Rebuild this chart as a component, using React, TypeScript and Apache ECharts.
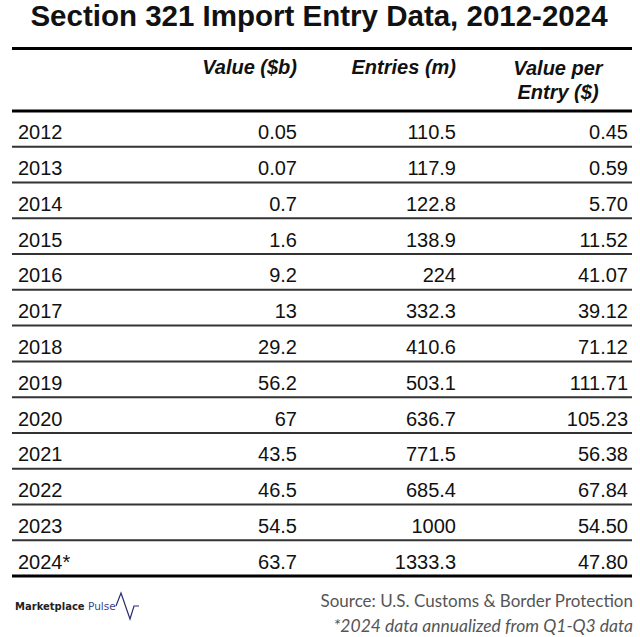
import React, { useEffect, useRef } from "react";
import * as echarts from "echarts";

const years = ["2012", "2013", "2014", "2015", "2016", "2017", "2018", "2019", "2020", "2021", "2022", "2023", "2024*"];
const valueB = ["0.05", "0.07", "0.7", "1.6", "9.2", "13", "29.2", "56.2", "67", "43.5", "46.5", "54.5", "63.7"];
const entriesM = ["110.5", "117.9", "122.8", "138.9", "224", "332.3", "410.6", "503.1", "636.7", "771.5", "685.4", "1000", "1333.3"];
const valuePerEntry = ["0.45", "0.59", "5.70", "11.52", "41.07", "39.12", "71.12", "111.71", "105.23", "56.38", "67.84", "54.50", "47.80"];
const headers = ["Value ($b)", "Entries (m)", "Value per\nEntry ($)"];

const FONT = "'Liberation Sans', Arial, sans-serif";

export default function App() {
  const ref = useRef<HTMLDivElement>(null);
  useEffect(() => {
    document.body.style.margin = "0";
    const chart = echarts.init(ref.current!, null, { renderer: "svg" });
    const colX = [18, 297, 456, 628];
    const rowFont = { fontFamily: FONT, fontSize: 20, fill: "#111" };
    const headFont = { fontFamily: FONT, fontSize: 20, fontWeight: "bold", fontStyle: "italic", fill: "#111" };
    chart.setOption({
      animation: false,
      backgroundColor: "#fff",
      grid: { left: 0, right: 0, top: 111, bottom: 61 },
      xAxis: { type: "value", min: 0, max: 640, show: false },
      yAxis: { type: "category", data: years, inverse: true, show: false },
      series: [
        {
          type: "custom",
          data: years.map((_, i) => [0, i]),
          encode: { x: 0, y: 1 },
          renderItem: (params: any, api: any) => {
            const i = api.value(1);
            const [, cy] = api.coord([0, i]);
            const band = api.size([0, 1])[1];
            const ty = cy + 3.5;
            const x0 = api.coord([colX[0], i])[0];
            const x1 = api.coord([colX[1], i])[0];
            const x2 = api.coord([colX[2], i])[0];
            const x3 = api.coord([colX[3], i])[0];
            const children: any[] = [
              { type: "text", style: { ...rowFont, text: years[i], x: x0, y: ty, textAlign: "left", textVerticalAlign: "middle" } },
              { type: "text", style: { ...rowFont, text: valueB[i], x: x1, y: ty, textAlign: "right", textVerticalAlign: "middle" } },
              { type: "text", style: { ...rowFont, text: entriesM[i], x: x2, y: ty, textAlign: "right", textVerticalAlign: "middle" } },
              { type: "text", style: { ...rowFont, text: valuePerEntry[i], x: x3, y: ty, textAlign: "right", textVerticalAlign: "middle" } },
            ];
            if (i < years.length - 1) {
              children.push({
                type: "line",
                shape: { x1: 12, y1: cy + band / 2, x2: 632, y2: cy + band / 2 },
                style: { stroke: "#333", lineWidth: 2 },
              });
            }
            return { type: "group", children };
          },
        },
      ],
      graphic: [
        { type: "text", x: 319, y: 15, style: { text: "Section 321 Import Entry Data, 2012-2024", fontFamily: FONT, fontSize: 29.5, fontWeight: "bold", fill: "#111", textAlign: "center", textVerticalAlign: "middle" } },
        { type: "line", shape: { x1: 12, y1: 48.5, x2: 632, y2: 48.5 }, style: { stroke: "#000", lineWidth: 3 } },
        { type: "line", shape: { x1: 12, y1: 111, x2: 632, y2: 111 }, style: { stroke: "#000", lineWidth: 3 } },
        { type: "line", shape: { x1: 12, y1: 576, x2: 632, y2: 576 }, style: { stroke: "#000", lineWidth: 3 } },
        { type: "text", x: 297, y: 67, style: { ...headFont, text: headers[0], textAlign: "right", textVerticalAlign: "middle" } },
        { type: "text", x: 456, y: 67, style: { ...headFont, text: headers[1], textAlign: "right", textVerticalAlign: "middle" } },
        { type: "text", x: 558, y: 79.5, style: { ...headFont, text: headers[2], textAlign: "center", textVerticalAlign: "middle", lineHeight: 24 } },
        { type: "text", x: 15, y: 606, style: { text: "Marketplace", fontFamily: "'DejaVu Sans', sans-serif", fontSize: 10, fontWeight: "bold", fill: "#222", textVerticalAlign: "middle" } },
        { type: "text", x: 88, y: 606, style: { text: "Pulse", fontFamily: "'DejaVu Sans', sans-serif", fontSize: 10.5, fill: "#3b3f8f", textVerticalAlign: "middle" } },
        { type: "polyline", shape: { points: [[116, 606], [121, 593], [130, 619], [134, 606], [139, 606]] }, style: { stroke: "#2b2d6e", lineWidth: 1.2, fill: null } },
        { type: "text", x: 633, y: 600, style: { text: "Source: U.S. Customs & Border Protection", fontFamily: "Lato, sans-serif", fontSize: 17, fill: "#555", textAlign: "right", textVerticalAlign: "middle" } },
        { type: "text", x: 633, y: 625, style: { text: "*2024 data annualized from Q1-Q3 data", fontFamily: "Lato, sans-serif", fontSize: 17.5, fontStyle: "italic", fill: "#555", textAlign: "right", textVerticalAlign: "middle" } },
      ],
    });
    return () => chart.dispose();
  }, []);
  return <div ref={ref} style={{ width: 640, height: 637 }} />;
}
